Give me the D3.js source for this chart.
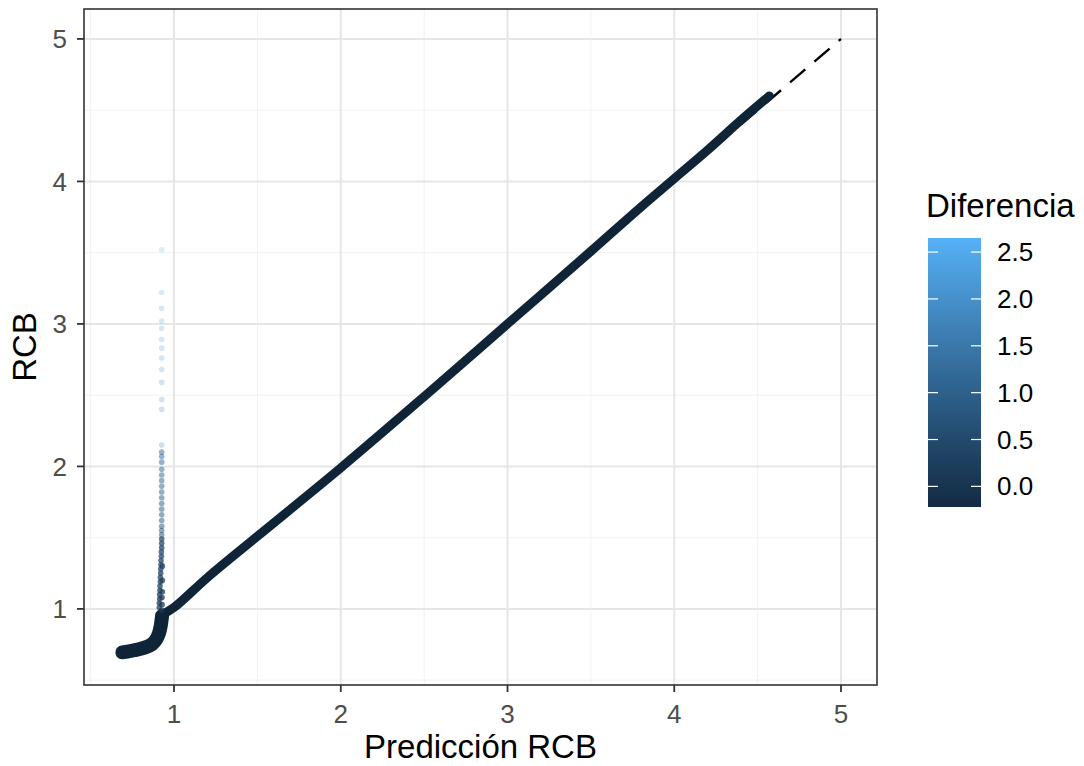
<!DOCTYPE html>
<html>
<head>
<meta charset="utf-8">
<script src="https://cdn.jsdelivr.net/npm/d3@7"></script>
<style>
  body { margin: 0; background: #fff; }
  text { font-family: "Liberation Sans", Arial, sans-serif; }
</style>
</head>
<body>
<div id="chart"></div>
<script>
// axis ticks
var xTicks = [1, 2, 3, 4, 5];
var yTicks = [1, 2, 3, 4, 5];
var xMinor = [0.5, 1.5, 2.5, 3.5, 4.5];
var yMinor = [0.5, 1.5, 2.5, 3.5, 4.5];
var legendTicks = [0, 0.5, 1, 1.5, 2, 2.5];

// limits
var xLimits = [0.46, 5.216];
var yLimits = [0.466, 5.21];
var diffLimits = [-0.22, 2.65];

// reference line y = x
var refPred = [0.95, 5];

// dense band of points along the diagonal (pred, rcb)
var bandPred = [0.93, 1.0, 1.2, 1.5, 2.0, 2.5, 3.0, 3.5, 3.8, 4.0, 4.2, 4.4, 4.57];
var bandRcb  = [0.96, 1.01, 1.22, 1.51, 1.99, 2.49, 3.0, 3.51, 3.82, 4.02, 4.22, 4.43, 4.60];

// dense cluster at the low end
var blobPred = [0.69, 0.72, 0.76, 0.80, 0.84, 0.87, 0.895, 0.91, 0.92, 0.928];
var blobRcb  = [0.695, 0.70, 0.71, 0.72, 0.735, 0.755, 0.79, 0.83, 0.88, 0.95];

// vertical spike of points near pred 0.93
var spikePred = [0.926, 0.926, 0.926, 0.926, 0.926, 0.926, 0.926, 0.926, 0.926, 0.926,
                 0.926, 0.926, 0.926, 0.926, 0.926, 0.926, 0.926, 0.926, 0.926, 0.926,
                 0.926, 0.926, 0.926, 0.926, 0.926, 0.926, 0.926, 0.926, 0.926, 0.926,
                 0.926, 0.926, 0.924, 0.924, 0.922, 0.922, 0.920, 0.920, 0.918, 0.918,
                 0.916, 0.916, 0.914, 0.914, 0.912, 0.912,
                 0.930, 0.930, 0.930, 0.928, 0.928, 0.926];
var spikeRcb  = [3.52, 3.22, 3.11, 3.02, 2.97, 2.89, 2.83, 2.76, 2.68, 2.59,
                 2.47, 2.40, 2.15, 2.10, 2.07, 2.03, 1.98, 1.94, 1.90, 1.86,
                 1.82, 1.78, 1.74, 1.70, 1.66, 1.62, 1.58, 1.55, 1.52, 1.49,
                 1.46, 1.43, 1.40, 1.37, 1.34, 1.31, 1.28, 1.25, 1.22, 1.19,
                 1.16, 1.13, 1.10, 1.07, 1.04, 1.01,
                 1.30, 1.20, 1.12, 1.08, 1.03, 0.99];

var width = 1084, height = 766;
var panel = { left: 84, top: 9, right: 877, bottom: 685 };

var svg = d3.select('#chart').append('svg')
  .attr('width', width)
  .attr('height', height);

var x = d3.scaleLinear().domain(xLimits).range([panel.left, panel.right]);
var y = d3.scaleLinear().domain(yLimits).range([panel.bottom, panel.top]);
var colour = d3.scaleLinear().domain(diffLimits)
  .range(['#132B43', '#56B1F7'])
  .interpolate(d3.interpolateLab);

// panel background and grid
svg.append('rect')
  .attr('x', panel.left).attr('y', panel.top)
  .attr('width', panel.right - panel.left)
  .attr('height', panel.bottom - panel.top)
  .attr('fill', '#fff');

var grid = svg.append('g');
grid.selectAll('.vminor').data(xMinor).enter().append('line')
  .attr('x1', function (d) { return x(d); }).attr('x2', function (d) { return x(d); })
  .attr('y1', panel.top).attr('y2', panel.bottom)
  .attr('stroke', '#f2f2f2').attr('stroke-width', 1);
grid.selectAll('.hminor').data(yMinor).enter().append('line')
  .attr('y1', function (d) { return y(d); }).attr('y2', function (d) { return y(d); })
  .attr('x1', panel.left).attr('x2', panel.right)
  .attr('stroke', '#f2f2f2').attr('stroke-width', 1);
grid.selectAll('.vmajor').data(xTicks).enter().append('line')
  .attr('x1', function (d) { return x(d); }).attr('x2', function (d) { return x(d); })
  .attr('y1', panel.top).attr('y2', panel.bottom)
  .attr('stroke', '#e6e6e6').attr('stroke-width', 2);
grid.selectAll('.hmajor').data(yTicks).enter().append('line')
  .attr('y1', function (d) { return y(d); }).attr('y2', function (d) { return y(d); })
  .attr('x1', panel.left).attr('x2', panel.right)
  .attr('stroke', '#e6e6e6').attr('stroke-width', 2);

// reference line y = x, drawn from the top end so the pattern ends in a dot
svg.append('line')
  .attr('x1', x(refPred[1])).attr('y1', y(refPred[1]))
  .attr('x2', x(refPred[0])).attr('y2', y(refPred[0]))
  .attr('stroke', '#000')
  .attr('stroke-width', 2.4)
  .attr('stroke-dasharray', '20,12')
  .attr('stroke-dashoffset', 17);

// dense blob and band of points
var line = d3.line()
  .x(function (d) { return x(d[0]); })
  .y(function (d) { return y(d[1]); })
  .curve(d3.curveCatmullRom);

var blob = blobPred.map(function (p, i) { return [p, blobRcb[i]]; });
var band = bandPred.map(function (p, i) { return [p, bandRcb[i]]; });
var dense = d3.color(colour(diffLimits[0])).darker(0.5).formatHex();

svg.append('path')
  .datum(blob)
  .attr('d', line)
  .attr('fill', 'none')
  .attr('stroke', dense)
  .attr('stroke-width', 14)
  .attr('stroke-linecap', 'round')
  .attr('stroke-linejoin', 'round');

svg.append('path')
  .datum(band)
  .attr('d', line)
  .attr('fill', 'none')
  .attr('stroke', dense)
  .attr('stroke-width', 9)
  .attr('stroke-linecap', 'round')
  .attr('stroke-linejoin', 'round');

// spike points
var spike = spikePred.map(function (p, i) { return { pred: p, rcb: spikeRcb[i] }; });
svg.selectAll('.pt').data(spike).enter().append('circle')
  .attr('cx', function (d) { return x(d.pred); })
  .attr('cy', function (d) { return y(d.rcb); })
  .attr('r', 2.8)
  .attr('fill', function (d) { return colour(d.rcb - d.pred); })
  .attr('fill-opacity', function (d) { return d.rcb > 2.12 ? 0.22 : (d.rcb > 1.5 ? 0.5 : 0.75); });

// panel border
svg.append('rect')
  .attr('x', panel.left).attr('y', panel.top)
  .attr('width', panel.right - panel.left)
  .attr('height', panel.bottom - panel.top)
  .attr('fill', 'none')
  .attr('stroke', '#333')
  .attr('stroke-width', 1.6);

// axes
var xAxis = svg.append('g');
xAxis.selectAll('line').data(xTicks).enter().append('line')
  .attr('x1', function (d) { return x(d); }).attr('x2', function (d) { return x(d); })
  .attr('y1', panel.bottom).attr('y2', panel.bottom + 7)
  .attr('stroke', '#333').attr('stroke-width', 1.8);
xAxis.selectAll('text').data(xTicks).enter().append('text')
  .attr('x', function (d) { return x(d); })
  .attr('y', 723)
  .attr('text-anchor', 'middle')
  .attr('font-size', 26)
  .attr('fill', '#4d4d4d')
  .text(function (d) { return d; });

var yAxis = svg.append('g');
yAxis.selectAll('line').data(yTicks).enter().append('line')
  .attr('y1', function (d) { return y(d); }).attr('y2', function (d) { return y(d); })
  .attr('x1', panel.left - 7).attr('x2', panel.left)
  .attr('stroke', '#333').attr('stroke-width', 1.8);
yAxis.selectAll('text').data(yTicks).enter().append('text')
  .attr('x', 67)
  .attr('y', function (d) { return y(d); })
  .attr('dy', '0.35em')
  .attr('text-anchor', 'end')
  .attr('font-size', 26)
  .attr('fill', '#4d4d4d')
  .text(function (d) { return d; });

svg.append('text')
  .attr('x', (panel.left + panel.right) / 2)
  .attr('y', 758)
  .attr('text-anchor', 'middle')
  .attr('font-size', 33)
  .attr('fill', '#000')
  .text('Predicción RCB');

svg.append('text')
  .attr('transform', 'translate(36,' + (panel.top + panel.bottom) / 2 + ') rotate(-90)')
  .attr('text-anchor', 'middle')
  .attr('font-size', 33)
  .attr('fill', '#000')
  .text('RCB');

// colour bar legend
var bar = { x: 928, w: 53, top: 238, bottom: 507 };
var ly = d3.scaleLinear().domain(diffLimits).range([bar.bottom, bar.top]);

var defs = svg.append('defs');
var grad = defs.append('linearGradient')
  .attr('id', 'diffgrad')
  .attr('x1', 0).attr('y1', 1).attr('x2', 0).attr('y2', 0);
d3.range(0, 1.0001, 0.1).forEach(function (t) {
  grad.append('stop')
    .attr('offset', t)
    .attr('stop-color', colour(diffLimits[0] + t * (diffLimits[1] - diffLimits[0])));
});

svg.append('rect')
  .attr('x', bar.x).attr('y', bar.top)
  .attr('width', bar.w).attr('height', bar.bottom - bar.top)
  .attr('fill', 'url(#diffgrad)');

var lg = svg.append('g');
lg.selectAll('.tl').data(legendTicks).enter().append('line')
  .attr('x1', bar.x).attr('x2', bar.x + 10)
  .attr('y1', function (d) { return ly(d); }).attr('y2', function (d) { return ly(d); })
  .attr('stroke', '#fff').attr('stroke-width', 1.2);
lg.selectAll('.tr').data(legendTicks).enter().append('line')
  .attr('x1', bar.x + bar.w - 10).attr('x2', bar.x + bar.w)
  .attr('y1', function (d) { return ly(d); }).attr('y2', function (d) { return ly(d); })
  .attr('stroke', '#fff').attr('stroke-width', 1.2);
lg.selectAll('text').data(legendTicks).enter().append('text')
  .attr('x', 997)
  .attr('y', function (d) { return ly(d); })
  .attr('dy', '0.35em')
  .attr('font-size', 26)
  .attr('fill', '#000')
  .text(function (d) { return d3.format('.1f')(d); });

svg.append('text')
  .attr('x', 926)
  .attr('y', 217)
  .attr('font-size', 33)
  .attr('fill', '#000')
  .text('Diferencia');
</script>
</body>
</html>
